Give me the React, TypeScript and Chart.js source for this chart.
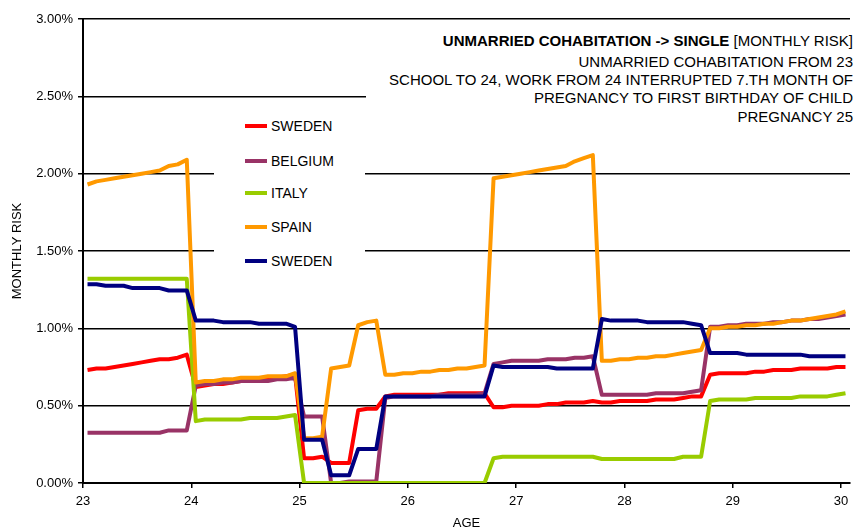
import React, { useEffect, useRef } from "react";
import { Chart, registerables } from "chart.js";

Chart.register(...registerables);

const FONT = "'Liberation Sans', Arial, Helvetica, sans-serif";

const SERIES_NAMES = ["SWEDEN", "BELGIUM", "ITALY", "SPAIN", "SWEDEN"];
const COLORS = ["#FF0000", "#993366", "#99CC00", "#FF9900", "#000080"];

// monthly risk in %, one value per month (mid-month) from age 23 to 30
const SWEDEN_A = [
  0.73, 0.74, 0.74, 0.75, 0.76, 0.77, 0.78, 0.79, 0.8, 0.8, 0.81, 0.83,
  0.62, 0.63, 0.64, 0.64, 0.65, 0.66, 0.66, 0.67, 0.68, 0.68, 0.69, 0.7,
  0.16, 0.16, 0.17, 0.13, 0.13, 0.13, 0.47, 0.48, 0.48, 0.56, 0.57, 0.57,
  0.57, 0.57, 0.57, 0.57, 0.58, 0.58, 0.58, 0.58, 0.58,
  0.49, 0.49, 0.5, 0.5, 0.5, 0.5, 0.51, 0.51, 0.52, 0.52, 0.52, 0.53,
  0.52, 0.52, 0.53, 0.53, 0.53, 0.53, 0.54, 0.54, 0.54, 0.55, 0.56, 0.56,
  0.7, 0.71, 0.71, 0.71, 0.71, 0.72, 0.72, 0.73, 0.73, 0.73, 0.74, 0.74, 0.74, 0.74, 0.75, 0.75,
];
const BELGIUM = [
  0.325, 0.325, 0.325, 0.325, 0.325, 0.325, 0.325, 0.325, 0.325, 0.34, 0.34, 0.34,
  0.63, 0.64, 0.64, 0.65, 0.65, 0.66, 0.66, 0.66, 0.66, 0.67, 0.67, 0.68,
  0.43, 0.43, 0.43, 0.0, 0.0, 0.01, 0.01, 0.01, 0.01, 0.55, 0.56, 0.56,
  0.56, 0.56, 0.56, 0.57, 0.57, 0.57, 0.57, 0.57, 0.58,
  0.77, 0.78, 0.79, 0.79, 0.79, 0.79, 0.8, 0.8, 0.8, 0.81, 0.81, 0.82,
  0.57, 0.57, 0.57, 0.57, 0.57, 0.57, 0.58, 0.58, 0.58, 0.58, 0.59, 0.6,
  1.01, 1.01, 1.02, 1.02, 1.03, 1.03, 1.03, 1.04, 1.04, 1.05, 1.05, 1.06, 1.06, 1.07, 1.08, 1.09,
];
const ITALY = [
  1.32, 1.32, 1.32, 1.32, 1.32, 1.32, 1.32, 1.32, 1.32, 1.32, 1.32, 1.32,
  0.4, 0.41, 0.41, 0.41, 0.41, 0.41, 0.42, 0.42, 0.42, 0.42, 0.43, 0.44,
  0, 0, 0, 0, 0, 0, 0, 0, 0, 0, 0, 0,
  0, 0, 0, 0, 0, 0, 0, 0, 0,
  0.16, 0.17, 0.17, 0.17, 0.17, 0.17, 0.17, 0.17, 0.17, 0.17, 0.17, 0.17,
  0.155, 0.155, 0.155, 0.155, 0.155, 0.155, 0.155, 0.155, 0.155, 0.17, 0.17, 0.17,
  0.53, 0.54, 0.54, 0.54, 0.54, 0.55, 0.55, 0.55, 0.55, 0.55, 0.56, 0.56, 0.56, 0.56, 0.57, 0.58,
];
const SPAIN = [
  1.93, 1.95, 1.96, 1.97, 1.98, 1.99, 2.0, 2.01, 2.02, 2.05, 2.06, 2.09,
  0.65, 0.66, 0.66, 0.67, 0.67, 0.68, 0.68, 0.68, 0.69, 0.69, 0.69, 0.71,
  0.29, 0.29, 0.3, 0.74, 0.75, 0.76, 1.02, 1.04, 1.05, 0.7, 0.7, 0.71,
  0.71, 0.72, 0.72, 0.73, 0.73, 0.74, 0.74, 0.75, 0.76,
  1.97, 1.98, 1.99, 2.0, 2.01, 2.02, 2.03, 2.04, 2.05, 2.08, 2.1, 2.12,
  0.79, 0.79, 0.8, 0.8, 0.81, 0.81, 0.82, 0.82, 0.83, 0.84, 0.85, 0.86,
  1.0, 1.0, 1.01, 1.01, 1.02, 1.02, 1.03, 1.03, 1.04, 1.05, 1.05, 1.06, 1.07, 1.08, 1.09, 1.11,
];
const SWEDEN_B = [
  1.285, 1.285, 1.275, 1.275, 1.275, 1.26, 1.26, 1.26, 1.26, 1.245, 1.245, 1.245,
  1.05, 1.05, 1.05, 1.04, 1.04, 1.04, 1.04, 1.03, 1.03, 1.03, 1.03, 1.01,
  0.28, 0.28, 0.28, 0.05, 0.05, 0.05, 0.22, 0.22, 0.22, 0.56, 0.56, 0.56,
  0.56, 0.56, 0.56, 0.56, 0.56, 0.56, 0.56, 0.56, 0.56,
  0.76, 0.75, 0.75, 0.75, 0.75, 0.75, 0.75, 0.74, 0.74, 0.74, 0.74, 0.74,
  1.06, 1.05, 1.05, 1.05, 1.05, 1.04, 1.04, 1.04, 1.04, 1.04, 1.03, 1.02,
  0.84, 0.84, 0.84, 0.84, 0.83, 0.83, 0.83, 0.83, 0.83, 0.83, 0.83, 0.82, 0.82, 0.82, 0.82, 0.82,
];

const X_TICKS = [23, 24, 25, 26, 27, 28, 29, 30];
const Y_TICKS = [0, 0.5, 1, 1.5, 2, 2.5, 3];

const TITLE_BOLD = "UNMARRIED COHABITATION -> SINGLE";
const TITLE_REST = " [MONTHLY RISK]";
const SUBTITLE_LINES = [
  "UNMARRIED COHABITATION FROM 23",
  "SCHOOL TO 24, WORK FROM 24 INTERRUPTED 7.TH MONTH OF",
  "PREGNANCY TO FIRST BIRTHDAY OF CHILD",
  "PREGNANCY 25",
];

const TITLE_CENTERS = [41, 61.5, 80, 98, 117];
const LEGEND_CENTERS = [126, 161, 192.5, 227, 260.5];

export default function App() {
  const ref = useRef<HTMLCanvasElement>(null);

  useEffect(() => {
    const canvas = ref.current;
    if (!canvas) return;
    const series = [SWEDEN_A, BELGIUM, ITALY, SPAIN, SWEDEN_B];
    // mid-month position of each monthly observation
    const monthAge = (i: number) => 23 + (i + 0.5) / 12;
    const chart = new Chart(canvas, {
      type: "line",
      data: {
        datasets: series.map((vals, i) => ({
          label: SERIES_NAMES[i],
          data: vals.map((v, j) => ({ x: monthAge(j), y: v })),
          borderColor: COLORS[i],
          backgroundColor: COLORS[i],
          borderWidth: 4,
          pointRadius: 0,
          tension: 0,
          borderJoinStyle: "round" as const,
          order: series.length - i,
        })),
      },
      options: {
        responsive: false,
        animation: false,
        layout: { padding: { top: 19, right: 7, left: 0, bottom: 0 } },
        plugins: {
          legend: { display: false },
          tooltip: { enabled: false },
        },
        scales: {
          x: {
            type: "linear",
            min: 23,
            max: 30 + 1 / 12,
            afterBuildTicks: (s: any) => {
              s.ticks = X_TICKS.map((v) => ({ value: v }));
            },
            afterFit: (s: any) => {
              s.height = 48;
            },
            ticks: {
              font: { family: FONT, size: 13 },
              color: "#000",
              padding: 6,
              maxRotation: 0,
              autoSkip: false,
              callback: (v: any) => String(v),
            },
            grid: {
              drawOnChartArea: false,
              color: "#000",
              lineWidth: 1.5,
              tickLength: 5,
            },
            border: { color: "#000", width: 2 },
            title: {
              display: true,
              text: "AGE",
              font: { family: FONT, size: 13 },
              color: "#000",
              padding: { top: 0, bottom: 0 },
            },
          },
          y: {
            min: 0,
            max: 3,
            afterBuildTicks: (s: any) => {
              s.ticks = Y_TICKS.map((v) => ({ value: v }));
            },
            afterFit: (s: any) => {
              s.width = 83;
            },
            ticks: {
              font: { family: FONT, size: 13 },
              color: "#000",
              padding: 5,
              callback: (v: any) => Number(v).toFixed(2) + "%",
            },
            grid: {
              color: "#000",
              lineWidth: 1.5,
              tickLength: 5,
            },
            border: { color: "#000", width: 2 },
            title: {
              display: true,
              text: "MONTHLY RISK",
              font: { family: FONT, size: 13 },
              color: "#000",
              padding: { top: 10, bottom: 0 },
            },
          },
        },
      },
    });
    return () => chart.destroy();
  }, []);

  const textBase: React.CSSProperties = {
    position: "absolute",
    fontFamily: FONT,
    color: "#000",
    whiteSpace: "nowrap",
  };

  return (
    <div
      style={{
        position: "absolute",
        left: 0,
        top: 0,
        width: 857,
        height: 531,
        background: "#fff",
        overflow: "hidden",
      }}
    >
      <canvas ref={ref} width={857} height={531} style={{ display: "block", width: 857, height: 531 }} />
      {/* title box */}
      <div style={{ position: "absolute", left: 366, top: 26, width: 491, height: 102, background: "#fff" }} />
      <div style={{ ...textBase, right: 857 - 853, top: TITLE_CENTERS[0] - 9, fontSize: 15, lineHeight: "18px" }}>
        <b>{TITLE_BOLD}</b>
        {TITLE_REST}
      </div>
      {SUBTITLE_LINES.map((t, i) => (
        <div
          key={i}
          style={{ ...textBase, right: 857 - 853, top: TITLE_CENTERS[i + 1] - 9, fontSize: 15, lineHeight: "18px" }}
        >
          {t}
        </div>
      ))}
      {/* legend box */}
      <div style={{ position: "absolute", left: 214, top: 105, width: 151, height: 180, background: "#fff" }} />
      {SERIES_NAMES.map((name, i) => (
        <React.Fragment key={i}>
          <div
            style={{
              position: "absolute",
              left: 245,
              top: LEGEND_CENTERS[i] - 2,
              width: 22,
              height: 4,
              background: COLORS[i],
            }}
          />
          <div style={{ ...textBase, left: 271, top: LEGEND_CENTERS[i] - 8, fontSize: 14, lineHeight: "16px" }}>
            {name}
          </div>
        </React.Fragment>
      ))}
    </div>
  );
}
